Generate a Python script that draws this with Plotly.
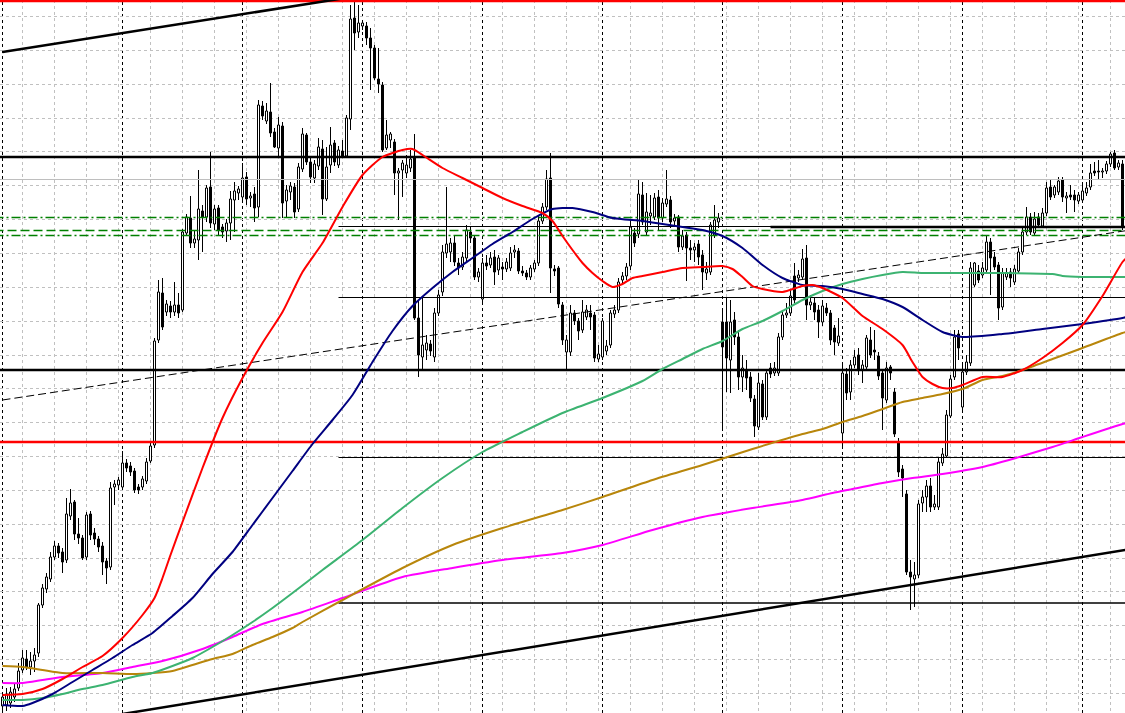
import plotly.graph_objects as go

# ---------------- candle data (bar index 0..280) ----------------
OPEN = [
1007,1008,1010,1016,1025,1043,1054,1046,1052,1060,
1108,1124,1134,1156,1167,1161,1153,1197,1211,1179,
1175,1156,1199,1180,1174,1167,1152,1146,1226,1228,
1226,1250,1247,1242,1226,1226,1232,1252,1268,1373,
1420,1401,1407,1401,1408,1403,1480,1495,1470,1473,
1502,1496,1526,1489,1505,1486,1482,1490,1513,1520,
1516,1536,1515,1519,1506,1607,1592,1601,1581,1565,
1587,1512,1521,1526,1504,1544,1578,1551,1535,1547,
1564,1514,1548,1570,1548,1562,1557,1594,1695,1681,
1687,1687,1675,1665,1634,1628,1565,1573,1571,1540,
1543,1540,1545,1556,1395,1356,1363,1369,1356,1400,
1421,1460,1461,1470,1450,1446,1455,1481,1475,1436,
1414,1450,1448,1456,1443,1446,1444,1445,1461,1462,
1442,1440,1436,1444,1450,1492,1506,1535,1444,1445,
1408,1361,1361,1400,1392,1383,1396,1400,1398,1354,
1356,1362,1368,1399,1403,1433,1437,1447,1480,1479,
1518,1481,1497,1496,1516,1495,1509,1513,1492,1496,
1466,1478,1465,1463,1469,1458,1440,1441,1478,1491,
1391,1391,1353,1393,1376,1336,1343,1336,1314,1286,
1329,1296,1345,1340,1340,1376,1398,1400,1437,1435,
1436,1455,1408,1410,1403,1391,1405,1400,1385,1370,
1280,1339,1321,1348,1358,1343,1346,1373,1363,1357,
1340,1313,1346,1321,1271,1244,1219,1141,1134,1138,
1210,1216,1227,1206,1206,1250,1257,1297,1336,1379,
1306,1341,1350,1428,1442,1438,1443,1471,1456,1448,
1406,1436,1441,1431,1442,1461,1481,1496,1480,1496,
1487,1500,1526,1518,1521,1533,1515,1518,1518,1512,
1513,1520,1526,1542,1542,1541,1542,1549,1560,1546,
1549]
HIGH = [
1020,1025,1026,1029,1050,1063,1063,1061,1065,1110,
1129,1140,1161,1172,1170,1165,1215,1224,1213,1195,
1178,1201,1202,1185,1177,1171,1155,1231,1233,1236,
1262,1254,1251,1245,1229,1237,1255,1270,1375,1433,
1435,1413,1412,1431,1420,1484,1499,1517,1483,1543,
1508,1528,1561,1508,1508,1489,1494,1522,1531,1527,
1550,1541,1521,1526,1613,1612,1610,1630,1585,1596,
1591,1528,1531,1530,1550,1585,1580,1555,1553,1575,
1573,1566,1586,1573,1567,1573,1598,1708,1711,1708,
1693,1691,1685,1668,1665,1631,1593,1581,1574,1545,
1553,1558,1563,1579,1413,1416,1378,1373,1405,1423,
1468,1526,1475,1478,1455,1461,1488,1486,1478,1445,
1455,1458,1461,1463,1458,1451,1455,1466,1468,1465,
1447,1443,1448,1453,1498,1510,1543,1560,1448,1447,
1411,1378,1408,1403,1395,1413,1408,1408,1401,1368,
1395,1373,1403,1408,1435,1441,1450,1493,1485,1533,
1531,1520,1518,1520,1523,1515,1543,1517,1499,1498,
1483,1481,1473,1470,1473,1463,1451,1491,1508,1500,
1403,1416,1413,1401,1383,1358,1353,1341,1318,1340,
1333,1343,1350,1351,1380,1403,1410,1423,1450,1443,
1464,1468,1418,1415,1408,1413,1410,1403,1388,1395,
1350,1345,1353,1363,1365,1353,1378,1386,1383,1361,
1343,1351,1348,1325,1275,1248,1223,1153,1151,1213,
1223,1233,1235,1218,1255,1265,1303,1338,1383,1383,
1348,1358,1451,1451,1448,1451,1478,1475,1461,1451,
1445,1445,1445,1448,1465,1485,1506,1500,1501,1500,
1505,1531,1533,1528,1536,1536,1521,1528,1523,1521,
1531,1531,1549,1551,1553,1545,1552,1561,1563,1553,
1553]
LOW = [
1001,1002,1005,1011,1022,1040,1043,1038,1041,1056,
1105,1120,1131,1153,1155,1140,1150,1193,1173,1169,
1153,1153,1173,1168,1161,1138,1129,1143,1208,1223,
1224,1241,1237,1220,1219,1223,1229,1250,1265,1370,
1383,1397,1395,1397,1395,1401,1477,1465,1465,1453,
1461,1491,1485,1483,1478,1475,1471,1473,1481,1513,
1513,1508,1506,1491,1496,1593,1589,1576,1565,1557,
1495,1495,1513,1495,1501,1541,1548,1530,1530,1543,
1498,1512,1540,1547,1545,1555,1555,1583,1663,1675,
1683,1668,1623,1633,1620,1561,1563,1565,1518,1493,
1516,1535,1541,1393,1336,1343,1353,1357,1351,1397,
1417,1455,1451,1447,1438,1443,1451,1470,1433,1431,
1411,1443,1445,1428,1438,1433,1441,1442,1455,1439,
1437,1433,1433,1441,1447,1489,1503,1420,1437,1405,
1368,1343,1357,1388,1373,1380,1393,1383,1351,1351,
1353,1358,1365,1395,1400,1429,1433,1443,1466,1475,
1488,1478,1488,1493,1483,1491,1506,1485,1488,1461,
1463,1432,1453,1451,1448,1423,1433,1438,1475,1485,
1283,1321,1320,1368,1323,1321,1323,1311,1276,1283,
1293,1293,1335,1337,1337,1373,1395,1397,1410,1431,
1433,1393,1403,1393,1375,1387,1397,1368,1358,1367,
1266,1313,1313,1345,1338,1330,1343,1355,1353,1333,
1283,1310,1333,1276,1236,1216,1138,1103,1106,1135,
1201,1201,1201,1203,1203,1247,1255,1295,1333,1353,
1301,1338,1347,1426,1430,1435,1441,1418,1443,1393,
1403,1433,1426,1428,1439,1458,1478,1478,1477,1485,
1485,1497,1513,1515,1518,1511,1500,1513,1501,1509,
1510,1517,1523,1537,1533,1535,1539,1546,1543,1543,
1483]
CLOSE = [
1016,1019,1021,1024,1042,1055,1046,1052,1058,1108,
1125,1136,1156,1167,1160,1151,1199,1210,1179,1175,
1155,1198,1178,1174,1166,1151,1145,1225,1229,1233,
1250,1245,1241,1223,1223,1234,1251,1267,1372,1421,
1386,1409,1401,1408,1400,1481,1496,1470,1474,1504,
1496,1525,1490,1504,1483,1481,1490,1514,1522,1524,
1535,1514,1517,1505,1608,1597,1602,1580,1566,1588,
1510,1523,1527,1501,1546,1579,1551,1536,1549,1566,
1514,1546,1568,1551,1563,1557,1595,1694,1680,1690,
1690,1675,1665,1635,1629,1563,1578,1579,1540,1542,
1550,1548,1554,1395,1358,1368,1370,1362,1400,1418,
1461,1469,1470,1451,1445,1456,1483,1475,1436,1441,
1450,1447,1455,1441,1455,1444,1451,1460,1463,1442,
1440,1436,1445,1450,1492,1506,1534,1445,1442,1409,
1373,1373,1400,1392,1382,1401,1403,1396,1355,1359,
1392,1367,1400,1403,1431,1437,1446,1486,1470,1519,
1491,1501,1500,1515,1495,1510,1514,1491,1495,1466,
1477,1465,1463,1466,1456,1441,1444,1488,1493,1495,
1366,1355,1391,1376,1336,1345,1335,1315,1287,1330,
1296,1340,1339,1345,1376,1398,1400,1417,1413,1438,
1454,1408,1411,1401,1391,1407,1400,1373,1371,1377,
1340,1320,1348,1356,1343,1348,1375,1358,1361,1337,
1315,1345,1340,1279,1241,1235,1141,1136,1138,1209,
1216,1227,1206,1209,1251,1259,1298,1334,1376,1365,
1341,1351,1445,1450,1433,1445,1471,1455,1446,1405,
1440,1440,1435,1444,1461,1481,1496,1481,1494,1488,
1500,1525,1516,1526,1532,1516,1517,1516,1513,1518,
1522,1525,1540,1540,1541,1542,1549,1559,1545,1550,
1486]
BARS = list(range(len(OPEN)))

# ---------------- moving averages (bar index, value) ----------------
RED_X = [0,5,10,15,20,25,30,35,38,40,42,45,50,55,60,65,70,75,80,85,90,95,100,102.5,105,110,115,120,125,130,
         135,137.5,140,142.5,145,147.5,150,152.5,155,157.5,160,165,170,175,180,182.5,185,187.5,190,195,
         200,202.5,205,210,215,220,225,227.5,230,232.5,235,237.5,240,245,250,255,260,265,270,275,280,281]
RED_Y = [1018,1019,1024,1034,1046,1057,1075,1098,1115,1135,1158,1191,1245,1295,1335,1370,1401,1441,1470,1506,
         1538,1556,1563,1564,1558,1545,1535,1525,1515,1507,1500,1492,1477,1463,1450,1440,1432,1426,1429,1435,
         1437,1441,1445,1446,1447,1444,1436,1427,1424,1421,1427,1428,1425,1415,1397,1384,1368,1351,1336,1329,
         1325,1325,1328,1336,1336,1343,1355,1370,1388,1417,1451,1455]
NAVY_X = [0,5,7.5,12.5,17.5,22.5,27.5,32.5,37.5,42.5,47.5,52.5,57.5,62.5,67.5,72.5,77.5,82.5,87.5,92.5,
          97.5,102.5,107.5,112.5,117.5,122.5,127.5,132.5,137.5,142.5,147.5,152.5,160,165,170,175,180,185,190,195,
          200,205,210,215,220,225,230,235,240,250,260,270,280,281]
NAVY_Y = [1008,1007,1010,1019,1031,1043,1055,1068,1080,1097,1115,1139,1161,1188,1215,1242,1269,1293,1318,1351,
          1382,1407,1425,1441,1455,1469,1481,1494,1504,1505,1501,1495,1492,1489,1486,1483,1477,1465,1448,1435,
          1428,1427,1424,1419,1414,1406,1393,1381,1376,1379,1384,1389,1395,1396]
GREEN_X = [0,5,10,15,20,25,32.5,37.5,42.5,47.5,52.5,57.5,62.5,67.5,72.5,80,90,100,110,120,
           130,140,150,160,165,170,175,180,185,190,195,200,205,210,215,220,225,230,240,250,262.5,265,270,281]
GREEN_Y = [1013,1013,1015,1019,1024,1028,1036,1040,1047,1055,1066,1078,1091,1105,1120,1143,1173,1205,1235,1261,
           1281,1300,1315,1332,1344,1354,1364,1372,1384,1392,1402,1413,1422,1429,1434,1438,1441,1440,1440,1440,
           1439,1437,1436,1436]
GOLD_X = [0,5,10,15,25,32.5,37.5,42.5,47.5,52.5,57.5,62.5,67.5,72.5,75,85,100,112.5,125,140,
          150,162.5,175,187.5,200,205,210,215,220,225,230,235,240,245,250,255,262.5,270,280,281]
GOLD_Y = [1047,1046,1043,1040,1040,1039,1040,1042,1048,1054,1059,1068,1076,1085,1091,1113,1145,1168,1185,1203,
          1216,1233,1248,1264,1279,1284,1291,1297,1304,1311,1315,1319,1324,1333,1337,1343,1354,1365,1380,1381]
MAG_X = [0,5,10,15,25,32.5,40,50,57.5,65,75,85,100,112.5,125,140,150,162.5,175,187.5,
         200,207.5,212.5,220,227.5,235,245,252.5,262.5,270,280,281]
MAG_Y = [1030,1030,1033,1036,1040,1046,1052,1064,1076,1089,1101,1115,1136,1145,1153,1160,1168,1183,1196,1205,
         1213,1220,1224,1230,1235,1239,1246,1254,1266,1276,1289,1290]

# ---------------- horizontal levels & trend lines ----------------
RED_LEVELS = [1712, 1271]
BLACK_THICK_LEVELS = [1556, 1343]
BLACK_THIN_LEVELS = [1486.5, 1415.5, 1255.5]
LOW_LEVEL = 1110
LEVEL_START = 84
THICK_OVERLAY = (192, 1486)
GRAY_LEVEL = 1533.5
GREEN_LEVELS = [(1495.5, "dashdot"), (1482.5, "dash"), (1477.5, "dashdot")]
TREND_UPPER = ([0, 100], [1661, 1724])
TREND_LOWER = ([30, 282], [999, 1164])
TREND_DASHED = ([0, 282], [1313, 1483])
SEPARATORS = [0, 30, 60, 90, 120, 150, 180, 210, 240, 270]

X_MIN, X_MAX = -0.625, 280.625
Y_MIN, Y_MAX = 1000, 1713

fig = go.Figure()

# wicks (drawn first, underneath the bodies)
fig.add_trace(go.Bar(
    x=BARS, base=LOW, y=[h - l for h, l in zip(HIGH, LOW)], width=0.25,
    marker=dict(color="black", line=dict(width=0)),
    showlegend=False, hoverinfo="skip"))

# bodies
body_base = [min(o, c) for o, c in zip(OPEN, CLOSE)]
body_len = [max(abs(c - o), 0.3) for o, c in zip(OPEN, CLOSE)]
body_fill = ["white" if c > o else "black" for o, c in zip(OPEN, CLOSE)]
fig.add_trace(go.Bar(
    x=BARS, base=body_base, y=body_len, width=0.5,
    marker=dict(color=body_fill, line=dict(color="black", width=1)),
    showlegend=False, hoverinfo="skip"))

def hline(y, x0=-2, x1=283, color="black", width=1, dash="solid"):
    fig.add_trace(go.Scatter(x=[x0, x1], y=[y, y], mode="lines",
                             line=dict(color=color, width=width, dash=dash),
                             showlegend=False, hoverinfo="skip"))

hline(GRAY_LEVEL, color="#BEBEBE", width=1)
for y, d in GREEN_LEVELS:
    hline(y, color="#008000", width=1.3, dash=("9px,4px" if d == "dash" else "9px,3px,2px,3px"))
for y in BLACK_THIN_LEVELS:
    hline(y, x0=LEVEL_START, width=1)
hline(THICK_OVERLAY[1], x0=THICK_OVERLAY[0], width=2.5)
hline(LOW_LEVEL, x0=LEVEL_START, width=1.5)
for y in BLACK_THICK_LEVELS:
    hline(y, width=2.5)
for y in RED_LEVELS:
    hline(y, color="#FF0000", width=2.5)

for xs, ys, w, d in [(TREND_UPPER[0], TREND_UPPER[1], 2.5, "solid"),
                     (TREND_LOWER[0], TREND_LOWER[1], 2.5, "solid"),
                     (TREND_DASHED[0], TREND_DASHED[1], 1, "8px,4px")]:
    fig.add_trace(go.Scatter(x=xs, y=ys, mode="lines",
                             line=dict(color="black", width=w, dash=d),
                             showlegend=False, hoverinfo="skip"))

for xs, ys, col in [(MAG_X, MAG_Y, "#FF00FF"), (GOLD_X, GOLD_Y, "#B8860B"),
                    (GREEN_X, GREEN_Y, "#3CB371"), (NAVY_X, NAVY_Y, "#000080"),
                    (RED_X, RED_Y, "#FF0000")]:
    fig.add_trace(go.Scatter(x=xs, y=ys, mode="lines",
                             line=dict(color=col, width=2, shape="spline", smoothing=0.6),
                             showlegend=False, hoverinfo="skip"))

shapes = []
for s in SEPARATORS:
    shapes.append(dict(type="line", xref="x", yref="paper", x0=s, x1=s, y0=0, y1=1,
                       line=dict(color="black", width=1, dash="3px,3px"), layer="below"))

fig.update_layout(
    width=1125, height=713, margin=dict(l=0, r=0, t=0, b=0),
    paper_bgcolor="white", plot_bgcolor="white",
    showlegend=False, barmode="overlay", shapes=shapes,
    xaxis=dict(range=[X_MIN, X_MAX], showticklabels=False, ticks="", zeroline=False,
               showline=False, showgrid=True, gridcolor="#C0C0C0", gridwidth=1,
               griddash="3px,3px", tick0=5, dtick=8),
    yaxis=dict(range=[Y_MIN, Y_MAX], showticklabels=False, ticks="", zeroline=False,
               showline=False, showgrid=True, gridcolor="#C0C0C0", gridwidth=1,
               griddash="3px,3px", tick0=1019.5, dtick=33.85),
)

fig.write_html("out.html", config={"displayModeBar": False},
               post_script="document.body.style.margin='0';document.body.style.overflow='hidden';")
